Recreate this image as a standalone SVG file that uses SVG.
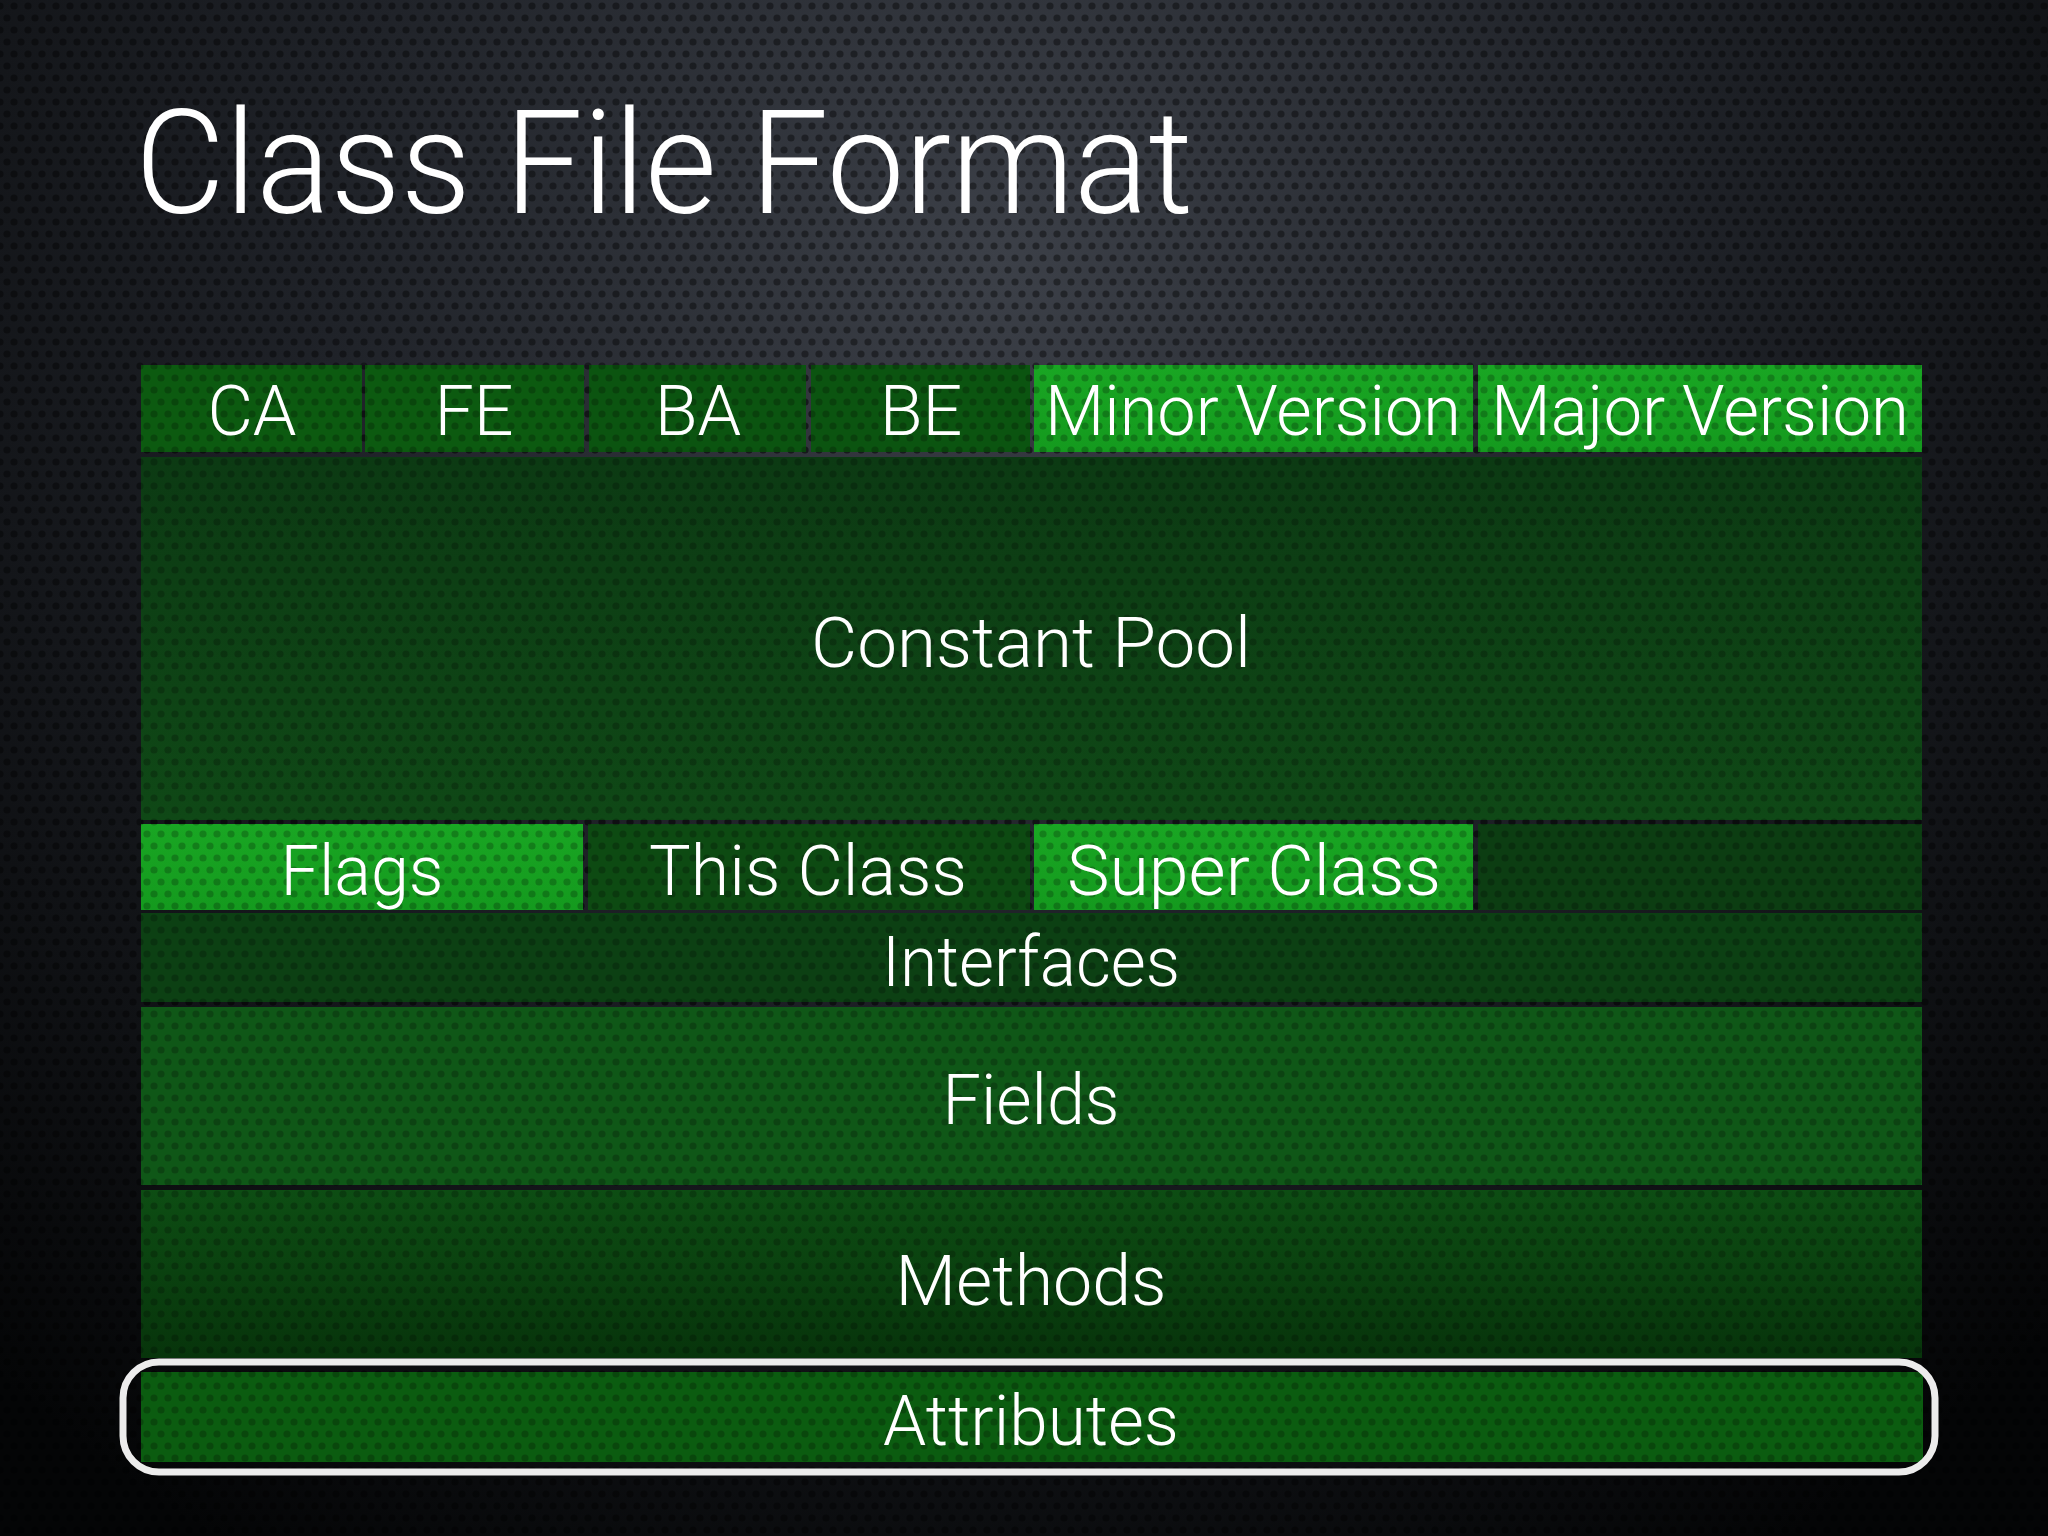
<svg xmlns="http://www.w3.org/2000/svg" width="2048" height="1536" viewBox="0 0 2048 1536">
<defs>
<radialGradient id="bg" cx="1000" cy="260" r="1500" gradientUnits="userSpaceOnUse">
<stop offset="0" stop-color="#3c4048"/>
<stop offset="0.45" stop-color="#1f2228"/>
<stop offset="1" stop-color="#040506"/>
</radialGradient>
<pattern id="holes" width="14" height="24" patternUnits="userSpaceOnUse">
<circle cx="0" cy="6" r="3.6" fill="#000" fill-opacity="0.5"/>
<circle cx="14" cy="6" r="3.6" fill="#000" fill-opacity="0.5"/>
<circle cx="7" cy="18" r="3.6" fill="#000" fill-opacity="0.5"/>
</pattern>
<linearGradient id="cp" x1="0" y1="0" x2="0" y2="1">
<stop offset="0" stop-color="#0c3a13"/>
<stop offset="1" stop-color="#0f4816"/>
</linearGradient>
<linearGradient id="meth" x1="0" y1="0" x2="0" y2="1">
<stop offset="0" stop-color="#0d4d13"/>
<stop offset="1" stop-color="#07340b"/>
</linearGradient>
<linearGradient id="bright" x1="0" y1="0" x2="0" y2="1">
<stop offset="0" stop-color="#19a623"/>
<stop offset="1" stop-color="#149a1e"/>
</linearGradient>
</defs>
<style>
.lbl{font-family:Roboto,"Liberation Sans",sans-serif;font-weight:300;font-size:70px;fill:#fff;text-anchor:middle}
.title{font-family:Roboto,"Liberation Sans",sans-serif;font-weight:300;font-size:145px;fill:#fff}
.dark{fill:#0c5a10}
.dark2{fill:#0b5410}
.br{fill:url(#bright)}
</style>
<rect x="0" y="0" width="2048" height="1536" fill="url(#bg)"/>
<rect x="0" y="0" width="2048" height="1536" fill="url(#holes)" opacity="0.8"/>

<g id="title"><text class="title" x="135" y="213" textLength="1058" lengthAdjust="spacingAndGlyphs">Class File Format</text></g>

<g id="cells">
<g id="ca"><rect class="dark" x="141" y="365" width="221" height="87"/></g>
<g id="fe"><rect class="dark" x="365" y="365" width="219" height="87"/></g>
<g id="ba"><rect class="dark2" x="589" y="365" width="217" height="87"/></g>
<g id="be"><rect class="dark2" x="811" y="365" width="219" height="87"/></g>
<g id="minor"><rect class="br" x="1034" y="365" width="439" height="87"/></g>
<g id="major"><rect class="br" x="1478" y="365" width="444" height="87"/></g>
<g id="constantpool"><rect x="141" y="457" width="1781" height="363" fill="url(#cp)"/></g>
<g id="flags"><rect class="br" x="141" y="824" width="442" height="86"/></g>
<g id="thisclass"><rect x="588" y="824" width="442" height="86" fill="#0d4a12"/></g>
<g id="superclass"><rect class="br" x="1034" y="824" width="439" height="86"/></g>
<g id="blank"><rect x="1478" y="824" width="444" height="86" fill="#0c3d12"/></g>
<g id="interfaces"><rect x="141" y="913" width="1781" height="89" fill="#0c4013"/></g>
<g id="fields"><rect x="141" y="1007" width="1781" height="178" fill="#0f5717"/></g>
<g id="methods"><rect x="141" y="1190" width="1781" height="168" fill="url(#meth)"/></g>
<g id="attributes"><rect x="141" y="1372" width="1782" height="90" fill="#0b5c10"/></g>
</g>
<rect x="141" y="365" width="1781" height="1097" fill="url(#holes)" opacity="0.45"/>

<g id="labels">
<text class="lbl" x="252" y="435">CA</text>
<text class="lbl" x="474" y="435">FE</text>
<text class="lbl" x="698" y="435">BA</text>
<text class="lbl" x="921" y="435">BE</text>
<text class="lbl" x="1253" y="435" textLength="416" lengthAdjust="spacingAndGlyphs">Minor Version</text>
<text class="lbl" x="1700" y="435" textLength="418" lengthAdjust="spacingAndGlyphs">Major Version</text>
<text class="lbl" x="1031" y="667" textLength="440" lengthAdjust="spacingAndGlyphs">Constant Pool</text>
<text class="lbl" x="362" y="895" textLength="163" lengthAdjust="spacingAndGlyphs">Flags</text>
<text class="lbl" x="808" y="895" textLength="318" lengthAdjust="spacingAndGlyphs">This Class</text>
<text class="lbl" x="1254" y="895" textLength="374" lengthAdjust="spacingAndGlyphs">Super Class</text>
<text class="lbl" x="1031" y="986" textLength="298" lengthAdjust="spacingAndGlyphs">Interfaces</text>
<text class="lbl" x="1031" y="1124" textLength="177" lengthAdjust="spacingAndGlyphs">Fields</text>
<text class="lbl" x="1031" y="1305" textLength="271" lengthAdjust="spacingAndGlyphs">Methods</text>
<text class="lbl" x="1031" y="1445" textLength="296" lengthAdjust="spacingAndGlyphs">Attributes</text>
</g>

<g id="attributes-highlight"><rect x="123" y="1362" width="1812" height="110" rx="36" ry="36" fill="none" stroke="#ececec" stroke-width="7"/></g>
</svg>
